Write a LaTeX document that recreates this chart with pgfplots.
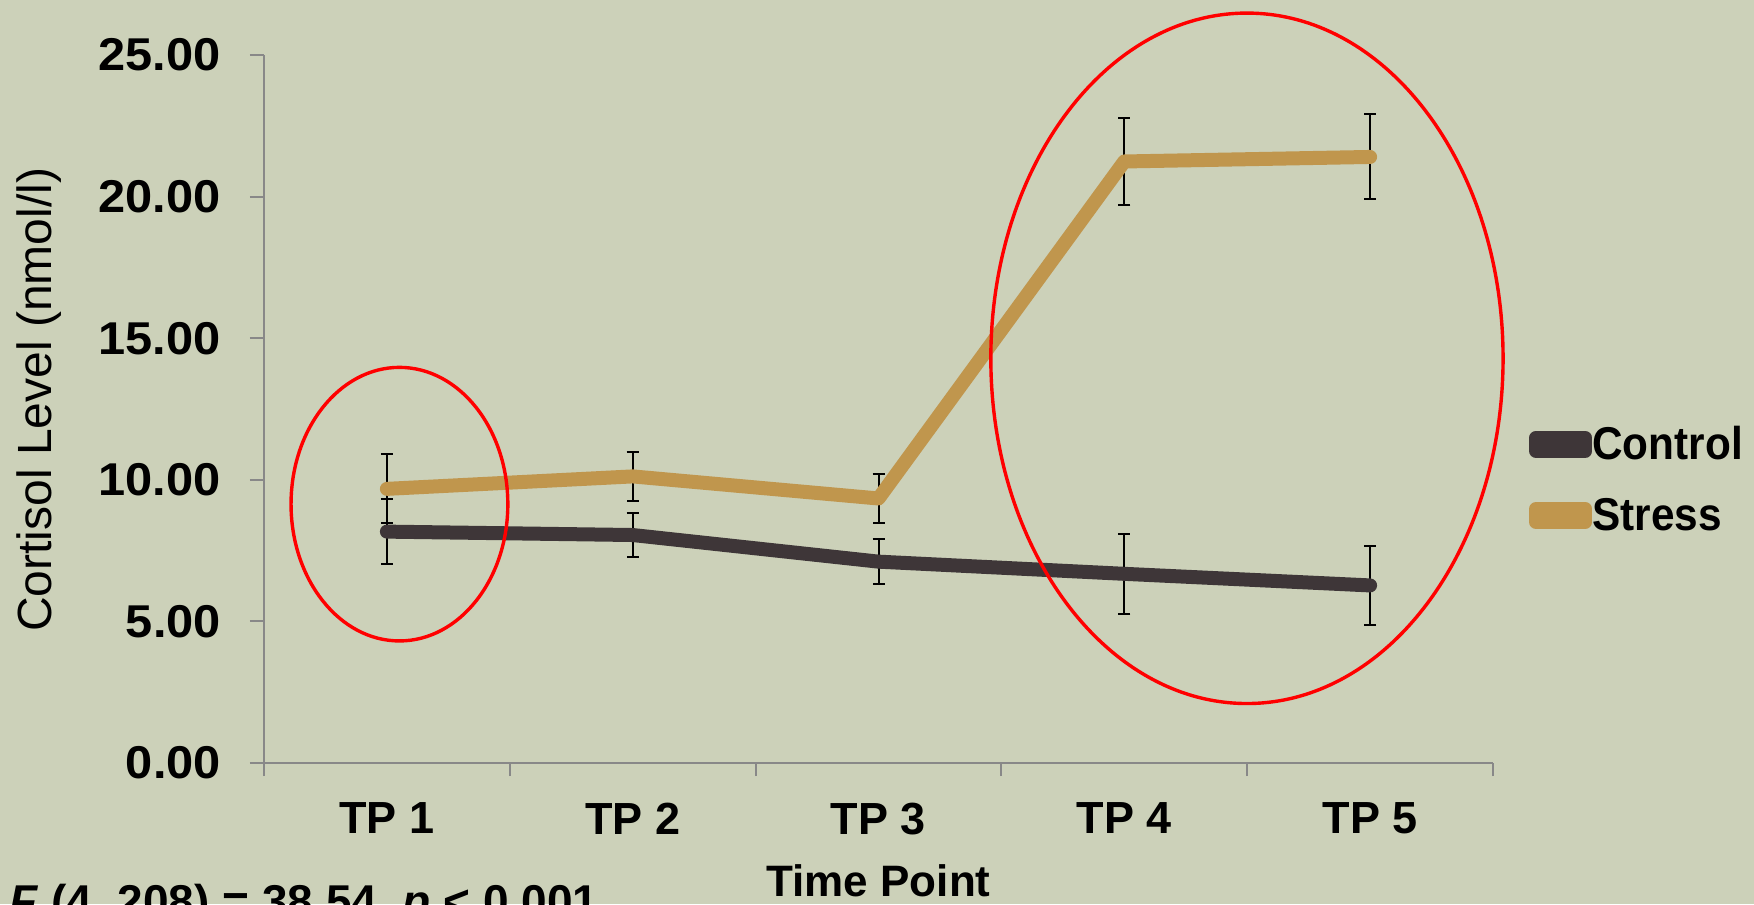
\documentclass[border=0pt]{standalone}
\usepackage{pgfplots}
\pgfplotsset{compat=1.18}
\usepackage{pgfplotstable}
\usepackage{fontspec}
\setmainfont{Liberation Sans}
\definecolor{bg}{RGB}{204,209,185}
\definecolor{ctrl}{RGB}{62,54,56}
\definecolor{strs}{RGB}{192,150,77}
\definecolor{axgray}{RGB}{136,136,136}

\pgfplotstableread{
x y e
0 8.17 1.15
1 8.05 0.79
2 7.11 0.79
3 6.68 1.42
4 6.27 1.40
}\ctrldata
\pgfplotstableread{
x y e
0 9.68 1.22
1 10.12 0.86
2 9.34 0.85
3 21.24 1.53
4 21.40 1.50
}\strsdata

\begin{document}
\begin{tikzpicture}
\path[use as bounding box, fill=bg] (0,0) rectangle (877pt,452pt);
\begin{axis}[
  at={(132pt,70.5pt)}, anchor=south west,
  scale only axis, width=614.5pt, height=354pt,
  xmin=-0.5, xmax=4.5, ymin=0, ymax=25,
  clip=false,
  axis x line*=bottom, axis y line*=left,
  axis line style={axgray, line width=1pt, -},
  xtick={0,1,2,3,4},
  xticklabels={TP 1,TP 2,TP 3,TP 4,TP 5},
  major x tick style={draw=none},
  minor xtick={-0.5,0.5,1.5,2.5,3.5,4.5},
  minor x tick style={axgray, line width=1pt},
  minor tick length=6.5pt,
  major tick length=7pt,
  tick align=outside,
  ytick={0,5,10,15,20,25},
  ytick style={axgray, line width=1pt},
  yticklabel={\scalebox{1.06}[1]{\pgfmathprintnumber[fixed,fixed zerofill,precision=2]{\tick}}},
  /pgf/number format/assume math mode=true,
  yticklabel style={anchor=east, inner sep=0pt, xshift=-14.4pt, font=\bfseries\fontsize{23}{27}\selectfont},
  xticklabel style={anchor=north, inner sep=0pt, yshift=-12.8pt, font=\bfseries\fontsize{22.5}{27}\selectfont},
  xlabel={Time Point},
  xlabel style={at={(axis description cs:0.5,-0.189)}, anchor=base, inner sep=0pt, font=\bfseries\fontsize{22}{26}\selectfont},
  ylabel={Cortisol Level (nmol/l)},
  ylabel style={at={(axis description cs:-0.1725,0.513)}, anchor=base, inner sep=0pt, font=\fontsize{24}{29}\selectfont},
  legend image code/.code={%
    \path (0pt,-3.25pt) rectangle (24.7pt,3.25pt);
    \draw[#1, line cap=round] (3.25pt,0pt) -- (23.25pt,0pt);},
  legend style={at={(axis description cs:1.0293,0.4757)}, anchor=north west,
    draw=none, fill=none, inner sep=0pt, outer sep=0pt,
    row sep=17.7pt, column sep=0pt,
    nodes={inner sep=0pt, font=\bfseries\fontsize{23}{27}\selectfont}},
  legend cell align=left,
]
\addplot[forget plot, draw=none, mark=none,
  error bars/.cd, y dir=both, y explicit,
  error bar style={draw=black, line width=1pt},
  error mark options={rotate=90, draw=black, line width=1pt, mark size=3pt}]
  table[x=x, y=y, y error=e] {\ctrldata};
\addplot[forget plot, draw=none, mark=none,
  error bars/.cd, y dir=both, y explicit,
  error bar style={draw=black, line width=1pt},
  error mark options={rotate=90, draw=black, line width=1pt, mark size=3pt}]
  table[x=x, y=y, y error=e] {\strsdata};
\addplot[ctrl, line width=7pt, line cap=round, line join=round, mark=none]
  table[x=x, y=y] {\ctrldata};
\addplot[strs, line width=7pt, line cap=round, line join=round, mark=none]
  table[x=x, y=y] {\strsdata};
\legend{\scalebox{0.92}[1]{Control},\scalebox{0.92}[1]{Stress}}
\draw[red, line width=1.7pt] (axis cs:0.051,9.14) ellipse [x radius=0.441, y radius=4.83];
\draw[red, line width=1.7pt] (axis cs:3.499,14.29) ellipse [x radius=1.042, y radius=12.19];
\node[anchor=base west, inner sep=0pt, font=\bfseries\fontsize{23}{27}\selectfont]
  at (axis description cs:-0.2075,-0.2189) {\textit{F} (4, 208) = 38.54, \textit{p} < 0.001};
\end{axis}
\end{tikzpicture}
\end{document}
